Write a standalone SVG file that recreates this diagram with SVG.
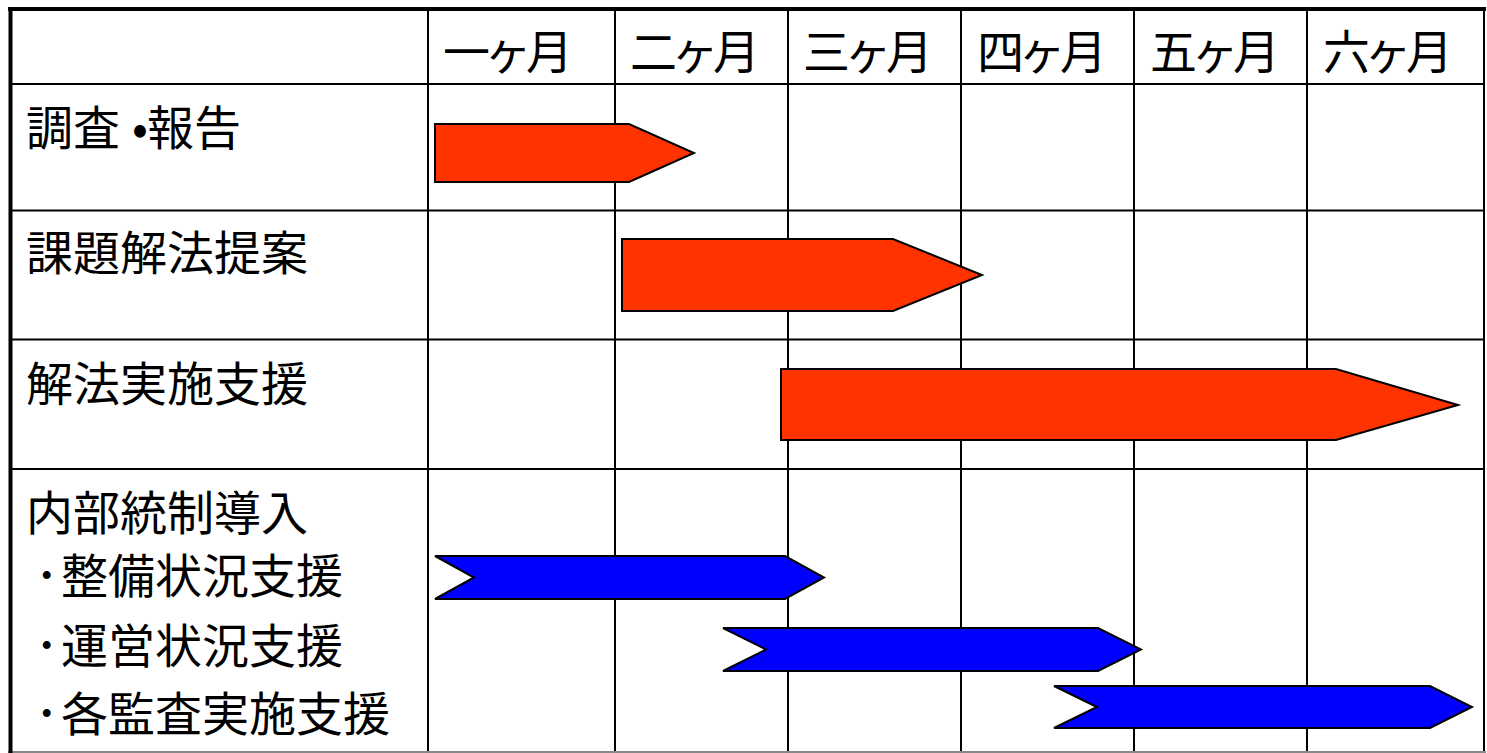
<svg xmlns="http://www.w3.org/2000/svg" width="1487" height="753" viewBox="0 0 1487 753">
<style>
.t{font-family:"Noto Sans CJK JP","Noto Sans CJK SC",sans-serif;font-size:47px;fill:#000}
.h{letter-spacing:-5.5px}
.g{stroke:#000;stroke-width:2;fill:none}
.red{fill:#FF3300;stroke:#000;stroke-width:2;stroke-linejoin:miter}
.blue{fill:#0000FF;stroke:#000;stroke-width:2;stroke-linejoin:miter}
</style>
<rect width="1487" height="753" fill="#fff"/>
<g id="grid">
<line class="g" x1="428" y1="9" x2="428" y2="753"/>
<line class="g" x1="615" y1="9" x2="615" y2="753"/>
<line class="g" x1="788" y1="9" x2="788" y2="753"/>
<line class="g" x1="961" y1="9" x2="961" y2="753"/>
<line class="g" x1="1134" y1="9" x2="1134" y2="753"/>
<line class="g" x1="1307" y1="9" x2="1307" y2="753"/>
<line class="g" x1="1484" y1="9" x2="1484" y2="753"/>
<line class="g" x1="10" y1="84" x2="1485" y2="84"/>
<line class="g" x1="10" y1="210.5" x2="1485" y2="210.5"/>
<line class="g" x1="10" y1="339.5" x2="1485" y2="339.5"/>
<line class="g" x1="10" y1="469" x2="1485" y2="469"/>
<line x1="8" y1="752" x2="1486" y2="752" stroke="#888" stroke-width="2"/>
<line x1="8" y1="9" x2="1486" y2="9" stroke="#000" stroke-width="4"/>
<line x1="10.5" y1="7" x2="10.5" y2="753" stroke="#000" stroke-width="4"/>
</g>
<g id="header">
<text class="t h" x="443" y="69">一ヶ月</text>
<text class="t h" x="630" y="69">二ヶ月</text>
<text class="t h" x="803" y="69">三ヶ月</text>
<text class="t h" x="977" y="69">四ヶ月</text>
<text class="t h" x="1150" y="69">五ヶ月</text>
<text class="t h" x="1323" y="69">六ヶ月</text>
</g>
<g id="row-chousa">
<text class="t" y="145"><tspan x="26">調査</tspan><tspan x="132">•</tspan><tspan x="147">報告</tspan></text>
</g>
<g id="row-kadai">
<text class="t" x="26" y="270">課題解法提案</text>
</g>
<g id="row-jisshi">
<text class="t" x="26" y="401">解法実施支援</text>
</g>
<g id="row-naibu">
<text class="t" x="26" y="530">内部統制導入</text>
<text class="t" y="593"><tspan x="35">･</tspan><tspan x="61">整備状況支援</tspan></text>
<text class="t" y="663"><tspan x="35">･</tspan><tspan x="61">運営状況支援</tspan></text>
<text class="t" y="731"><tspan x="35">･</tspan><tspan x="61">各監査実施支援</tspan></text>
</g>
<g id="connectors">
<polygon class="red" points="435,124 629,124 694,153 629,182 435,182"/>
<polygon class="red" points="622,239 893,239 982,275 893,311 622,311"/>
<polygon class="red" points="781,369 1336,369 1458,405 1336,440 781,440"/>
<polygon class="blue" points="435,556 785,556 824,577.5 785,599 435,599 474,577.5"/>
<polygon class="blue" points="723,628 1098,628 1141,649.5 1098,671 723,671 766,649.5"/>
<polygon class="blue" points="1054,686 1430,686 1472,707 1430,728 1054,728 1097,707"/>
</g>
</svg>
